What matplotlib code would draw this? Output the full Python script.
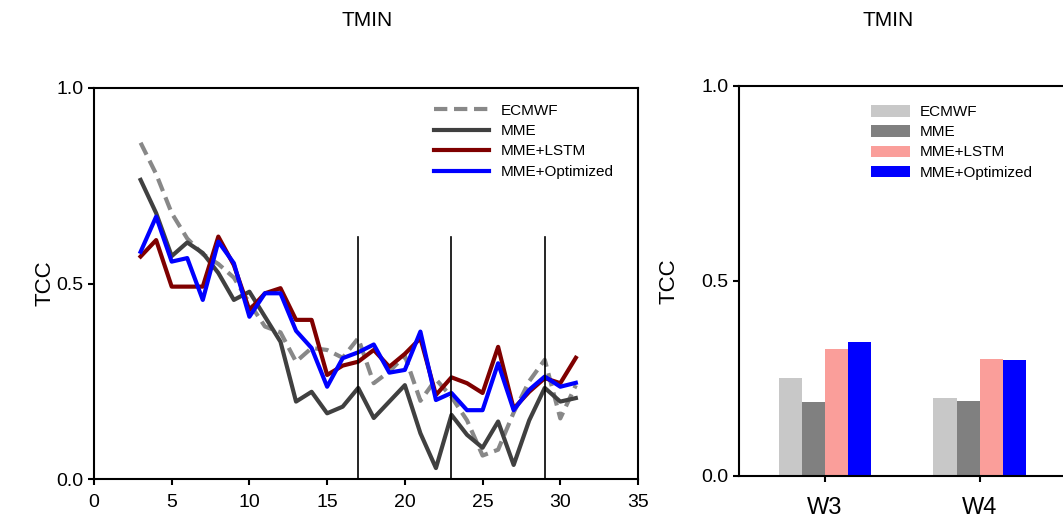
import matplotlib
matplotlib.use("Agg")
import matplotlib.pyplot as plt

plt.rcParams['font.family'] = ['Liberation Sans', 'DejaVu Sans']

# Daily TCC of TMIN forecasts by lead time
lead_days = list(range(3, 32))
ecmwf = [0.86, 0.78, 0.68, 0.615, 0.575, 0.55, 0.515, 0.45, 0.39, 0.375,
         0.30, 0.335, 0.33, 0.31, 0.36, 0.245, 0.275, 0.315, 0.20, 0.255,
         0.21, 0.15, 0.06, 0.075, 0.17, 0.25, 0.305, 0.155, 0.24]
mme = [0.765, 0.68, 0.57, 0.605, 0.578, 0.527, 0.458, 0.479, 0.415, 0.351,
       0.198, 0.223, 0.168, 0.185, 0.233, 0.156, 0.198, 0.24, 0.117, 0.028,
       0.164, 0.113, 0.08, 0.147, 0.036, 0.15, 0.233, 0.198, 0.207]
mme_lstm = [0.569, 0.611, 0.492, 0.492, 0.492, 0.62, 0.547, 0.432, 0.475, 0.488,
            0.407, 0.407, 0.266, 0.29, 0.30, 0.33, 0.287, 0.32, 0.36, 0.215,
            0.26, 0.245, 0.22, 0.338, 0.18, 0.223, 0.258, 0.245, 0.31]
mme_opt = [0.581, 0.671, 0.556, 0.565, 0.458, 0.607, 0.552, 0.415, 0.475, 0.475,
           0.379, 0.335, 0.236, 0.309, 0.324, 0.344, 0.272, 0.279, 0.377, 0.202,
           0.22, 0.176, 0.176, 0.296, 0.176, 0.228, 0.262, 0.236, 0.246]
week_marks = [17, 23, 29]
week_mark_top = 0.62

# Weekly TCC
weeks = ["W3", "W4"]
bar_ecmwf = [0.25, 0.199]
bar_mme = [0.19, 0.193]
bar_lstm = [0.325, 0.30]
bar_opt = [0.343, 0.296]

fig = plt.figure(figsize=(10.63, 5.21), dpi=100)

# ---- left panel: lines
ax1 = fig.add_axes([0.0884, 0.0806, 0.5118, 0.7505])
ax1.plot(lead_days, ecmwf, color='#888888', lw=3, dashes=(3.2, 1.6), label='ECMWF')
ax1.plot(lead_days, mme, color='#404040', lw=3, label='MME')
ax1.plot(lead_days, mme_lstm, color='#7f0000', lw=3, label='MME+LSTM')
ax1.plot(lead_days, mme_opt, color='#0000ff', lw=3, label='MME+Optimized')
for xm in week_marks:
    ax1.plot([xm, xm], [0, week_mark_top], color='black', lw=1.2)
ax1.set_xlim(0, 35)
ax1.set_ylim(0, 1)
ax1.set_xticks([0, 5, 10, 15, 20, 25, 30, 35])
ax1.set_yticks([0, 0.5, 1.0])
ax1.set_yticklabels(['0.0', '0.5', '1.0'])
ax1.set_ylabel('TCC', fontsize=16, labelpad=1)
ax1.legend(loc='upper left', bbox_to_anchor=(0.625, 0.96), frameon=False,
           fontsize=11, handlelength=3.6, handletextpad=0.8,
           labelspacing=0.42, borderaxespad=0, borderpad=0)

# ---- right panel: bars
ax2 = fig.add_axes([0.6952, 0.0864, 0.3076, 0.749])
pos = list(range(len(weeks)))
w = 0.15
series = [(bar_ecmwf, '#c8c8c8', 'ECMWF'),
          (bar_mme, '#808080', 'MME'),
          (bar_lstm, '#fa9e9a', 'MME+LSTM'),
          (bar_opt, '#0000ff', 'MME+Optimized')]
for i, (vals, col, lab) in enumerate(series):
    off = (i - 1.5) * w
    ax2.bar([p + off for p in pos], vals, width=w, color=col, label=lab, linewidth=0)
ax2.set_xlim(-0.555, 1.555)
ax2.set_ylim(0, 1)
ax2.set_xticks(pos)
ax2.set_xticklabels(weeks, fontsize=17)
ax2.set_yticks([0, 0.5, 1.0])
ax2.set_yticklabels(['0.0', '0.5', '1.0'])
ax2.set_ylabel('TCC', fontsize=16, labelpad=16)
ax2.legend(loc='upper left', bbox_to_anchor=(0.405, 0.95), frameon=False,
           fontsize=11, handlelength=2.55, handleheight=0.76, handletextpad=0.6,
           labelspacing=0.4, borderaxespad=0, borderpad=0)

for ax in (ax1, ax2):
    for sp in ax.spines.values():
        sp.set_linewidth(1.5)
    ax.tick_params(direction='out', length=4, width=1.5, labelsize=14,
                   top=False, right=False)
ax2.tick_params(axis='x', labelsize=17, pad=11)
ax1.tick_params(axis='x', pad=7)

fig.text(366.7 / 1063, 1 - 20 / 521, 'TMIN', ha='center', va='center', fontsize=15)
fig.text(888 / 1063, 1 - 20 / 521, 'TMIN', ha='center', va='center', fontsize=15)

fig.savefig('out.png', dpi=100)
